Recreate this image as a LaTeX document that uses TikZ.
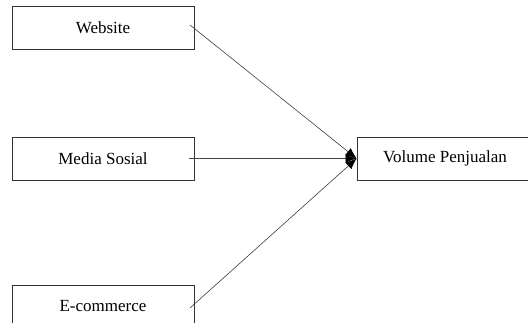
\documentclass[tikz,border=0pt]{standalone}
\usepackage{fontspec}
\setmainfont{Liberation Serif}
\usetikzlibrary{arrows.meta}
\begin{document}
\begin{tikzpicture}[x=1pt,y=-1pt,
  box/.style={draw=black!80, line width=0.8pt, minimum width=182pt, minimum height=43pt, inner sep=0pt, font=\fontsize{17}{20}\selectfont},
  conn/.style={draw=black!75, line width=0.6pt, -{Latex[length=11pt,width=9pt,black]}}]
\clip (0,0) rectangle (528,323);
\fill[white] (0,0) rectangle (528,323);
\node[box] (w) at (103,27.5) {Website};
\node[box] (m) at (103,158.5) {Media Sosial};
\node[box] (e) at (103,306.5) {E-commerce};
\node[box, minimum width=176pt] (v) at (445,158.5) {Volume Penjualan};
\coordinate (ws) at (190,25);
\coordinate (ms) at (189,158.5);
\coordinate (es) at (190,308);
\draw[conn] (ws) -- (v.west);
\draw[conn] (ms) -- (v.west);
\draw[conn] (es) -- (v.west);
\end{tikzpicture}
\end{document}
